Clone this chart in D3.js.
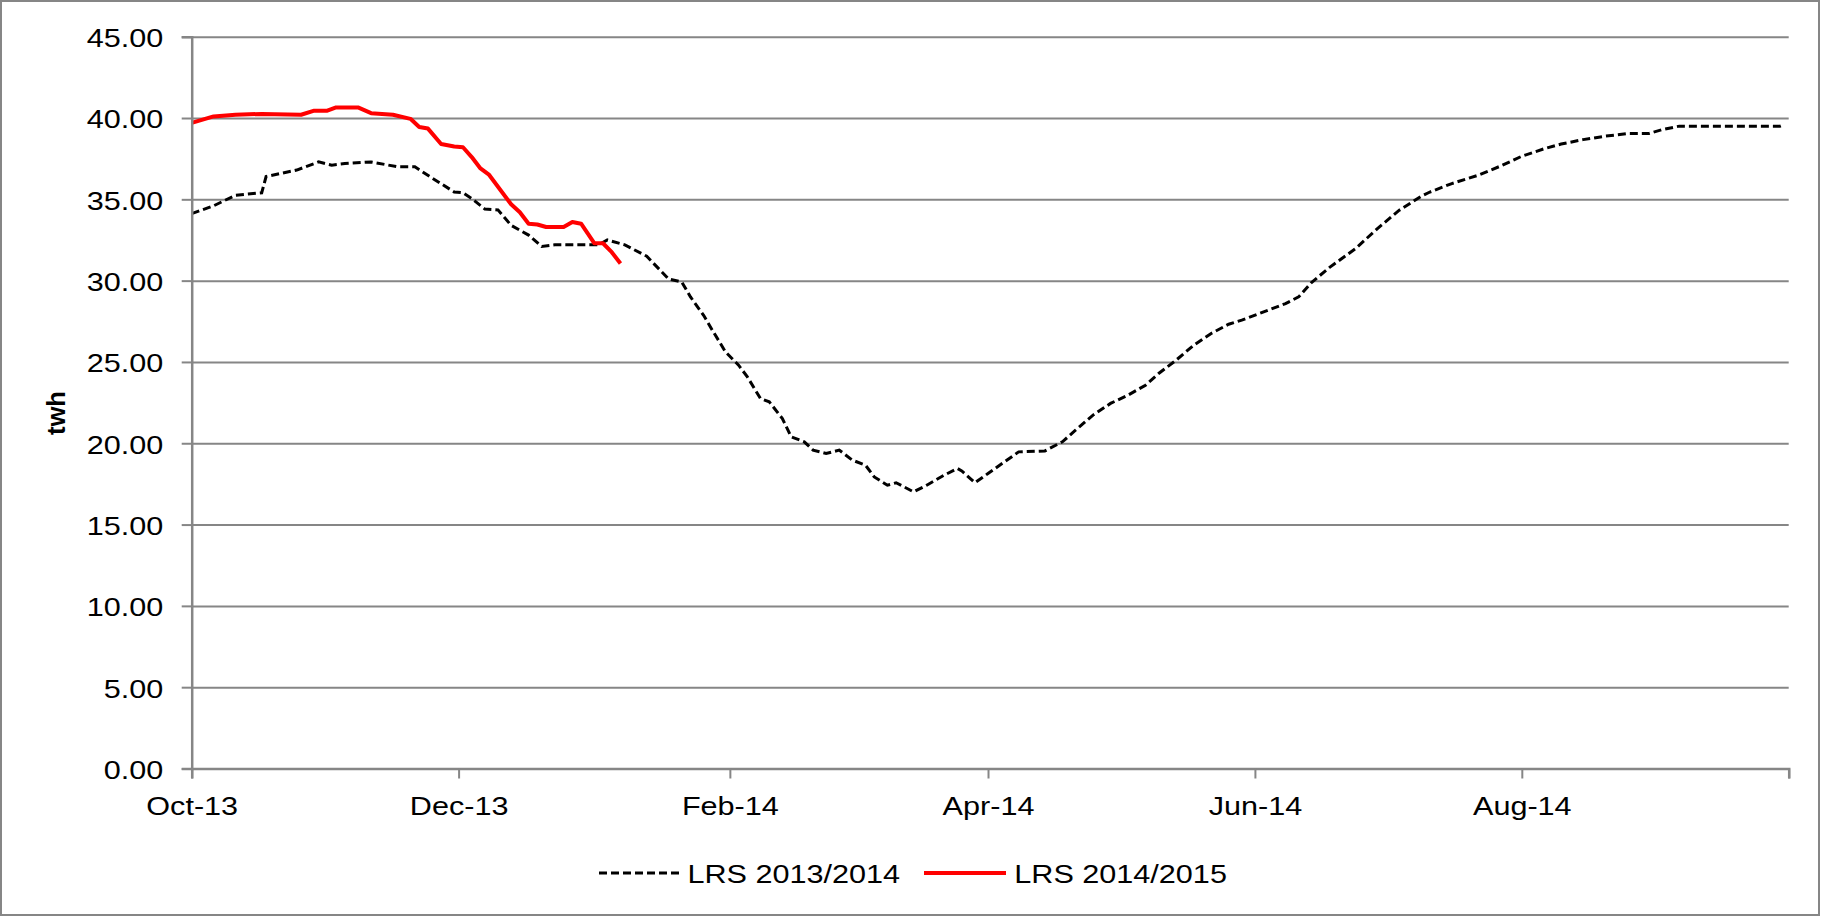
<!DOCTYPE html>
<html>
<head>
<meta charset="utf-8">
<script src="https://cdn.jsdelivr.net/npm/d3@7/dist/d3.min.js"></script>
<style>
    body { margin: 0; background: #fff; }
    svg { display: block; }
    text { font-family: "Liberation Sans", Arial, sans-serif; fill: #000; }
</style>
</head>
<body>
<div id="chart"><svg class="diagram"></svg></div>
<script>

// LRS 2013/2014, dates on the Oct-Sep season axis
var dates1314 = ["2013-10-01","2013-10-06","2013-10-11","2013-10-17","2013-10-18","2013-10-25","2013-10-30",
    "2013-11-02","2013-11-05","2013-11-11","2013-11-17","2013-11-21","2013-11-25","2013-11-30",
    "2013-12-02","2013-12-04","2013-12-07","2013-12-10","2013-12-13","2013-12-17","2013-12-20","2013-12-23",
    "2014-01-02","2014-01-04","2014-01-08","2014-01-13","2014-01-18","2014-01-21","2014-01-23","2014-01-26","2014-01-28","2014-01-31",
    "2014-02-03","2014-02-05","2014-02-08","2014-02-10","2014-02-13","2014-02-15","2014-02-18","2014-02-20","2014-02-23","2014-02-26",
    "2014-03-01","2014-03-04","2014-03-06","2014-03-09","2014-03-11","2014-03-15","2014-03-18","2014-03-22","2014-03-25","2014-03-26","2014-03-29",
    "2014-04-01","2014-04-05","2014-04-08","2014-04-14","2014-04-18","2014-04-21","2014-04-25","2014-04-29",
    "2014-05-03","2014-05-07","2014-05-10","2014-05-14","2014-05-18","2014-05-22","2014-05-26","2014-05-29",
    "2014-06-03","2014-06-08","2014-06-11","2014-06-14","2014-06-18","2014-06-24","2014-06-29",
    "2014-07-04","2014-07-09","2014-07-11","2014-07-16","2014-07-22","2014-07-27",
    "2014-08-01","2014-08-06","2014-08-10","2014-08-15","2014-08-20","2014-08-25","2014-08-30",
    "2014-09-02","2014-09-06","2014-09-29","2014-09-30"];
var values1314 = [34.12,34.6,35.25,35.4,36.4,36.8,37.3,
    37.1,37.2,37.3,37.0,37.0,36.3,35.45,
    35.4,35.05,34.4,34.35,33.4,32.8,32.1,32.2,
    32.2,32.5,32.2,31.5,30.1,29.92,29.0,27.87,26.95,25.62,
    24.8,24.08,22.75,22.55,21.52,20.4,20.09,19.58,19.37,19.58,
    18.96,18.65,17.93,17.42,17.57,17.01,17.42,18.04,18.45,18.3,17.57,
    18.14,18.9,19.47,19.53,20.09,20.8,21.73,22.45,
    22.96,23.57,24.29,25.11,26.03,26.75,27.32,27.57,
    28.08,28.59,29.0,29.9,30.8,31.97,33.2,
    34.33,35.19,35.45,35.97,36.48,37.03,
    37.65,38.1,38.4,38.67,38.88,39.04,39.04,
    39.28,39.5,39.5,39.6];

// LRS 2014/2015, plotted on the same season axis
var dates1415 = ["2013-10-01","2013-10-06","2013-10-11","2013-10-17","2013-10-26","2013-10-29",
    "2013-11-01","2013-11-03","2013-11-08","2013-11-11","2013-11-16","2013-11-20","2013-11-22","2013-11-24","2013-11-27","2013-11-30",
    "2013-12-02","2013-12-04","2013-12-06","2013-12-08","2013-12-13","2013-12-15","2013-12-17","2013-12-19","2013-12-21","2013-12-25","2013-12-27","2013-12-29",
    "2014-01-01","2014-01-03","2014-01-05","2014-01-07"];
var values1415 = [39.7,40.1,40.2,40.25,40.2,40.45,
    40.45,40.65,40.65,40.3,40.2,39.95,39.45,39.35,38.4,38.25,
    38.2,37.6,36.9,36.5,34.7,34.2,33.5,33.45,33.3,33.3,33.6,33.5,
    32.3,32.3,31.75,31.05];

var yTicks = [0,5,10,15,20,25,30,35,40,45];
var seriesNames = ["LRS 2013/2014","LRS 2014/2015"];
var axisStart = "2013-10-01", axisEnd = "2014-10-01";
var yTitle = "twh";

/***********************************************************************************************************/

var W = 1821, H = 917;
var margin = {top: 36.7, right: 32.3, bottom: 148.5, left: 191.7};
var textStretch = 1.2;  // the exported chart's labels are wider than plain Arial
var gridColor = "#868686";

var parseDate = d3.timeParse("%Y-%m-%d");

function toPoints(dates, values){
    return dates.map(function(d, i){ return {date: parseDate(d), value: values[i]}; });
}

function stretchText(sel){
    sel.each(function(){
        var t = d3.select(this);
        var x = +t.attr("x") || 0;
        t.attr("x", x / textStretch).attr("transform", "scale(" + textStretch + ",1)");
    });
}

function drawChart(mydiv){
    var div = d3.select('#' + mydiv);
    var svg = div.select("svg").attr("width", W).attr("height", H);

    svg.append("rect").attr("x", 1).attr("y", 1).attr("width", W - 3).attr("height", H - 3)
        .attr("fill", "#fff").attr("stroke", gridColor).attr("stroke-width", 2);

    var width = W - margin.left - margin.right,
        height = H - margin.top - margin.bottom;

    var g = svg.append("g").attr("transform", "translate(" + margin.left + "," + margin.top + ")");

    var x = d3.scaleTime().domain([parseDate(axisStart), parseDate(axisEnd)]).range([0, width]);
    var y = d3.scaleLinear().domain([0, 45]).range([height, 0]);

    // horizontal grid
    var grid = g.append("g").call(d3.axisLeft(y).tickValues(yTicks.slice(1)).tickSize(-width).tickFormat(""));
    grid.select(".domain").remove();
    grid.selectAll("line").attr("stroke", gridColor).attr("stroke-width", 2);

    var line = d3.line()
        .x(function(d){ return x(d.date); })
        .y(function(d){ return y(d.value); });

    g.append("path").datum(toPoints(dates1314, values1314))
        .attr("d", line).attr("fill", "none")
        .attr("stroke", "#000").attr("stroke-width", 3).attr("stroke-dasharray", "8,4");

    g.append("path").datum(toPoints(dates1415, values1415))
        .attr("d", line).attr("fill", "none")
        .attr("stroke", "#ff0000").attr("stroke-width", 4).attr("stroke-linejoin", "round");

    // y axis
    var yAxis = g.append("g").call(d3.axisLeft(y).tickValues(yTicks).tickSize(10).tickPadding(18.4)
        .tickFormat(d3.format(".2f")));
    yAxis.select(".domain").attr("stroke", gridColor).attr("stroke-width", 2.5);
    yAxis.selectAll("line").attr("stroke", gridColor).attr("stroke-width", 2);
    yAxis.selectAll("text").attr("font-size", "25.5px").attr("dy", "0.39em")
        .style("font-family", "'Liberation Sans', Arial, sans-serif").call(stretchText);

    // x axis: a tick every two months from the season start, the last one unlabelled
    var xTicks = d3.timeMonth.range(parseDate(axisStart), d3.timeDay.offset(parseDate(axisEnd), 1), 2);
    var fmt = d3.timeFormat("%b-%y");
    var xAxis = g.append("g").attr("transform", "translate(0," + height + ")")
        .call(d3.axisBottom(x).tickValues(xTicks).tickSize(10).tickPadding(18.5)
            .tickFormat(function(d, i){ return i === xTicks.length - 1 ? "" : fmt(d); }));
    xAxis.select(".domain").attr("stroke", gridColor).attr("stroke-width", 2.5);
    xAxis.selectAll("line").attr("stroke", gridColor).attr("stroke-width", 2);
    xAxis.selectAll("text").attr("font-size", "25.5px")
        .style("font-family", "'Liberation Sans', Arial, sans-serif").call(stretchText);

    // y title
    svg.append("text")
        .attr("transform", "translate(65," + 413 + ") rotate(-90)")
        .attr("text-anchor", "middle")
        .attr("font-size", "25.5px").attr("font-weight", "bold")
        .text(yTitle);

    // legend
    var legend = svg.append("g").attr("transform", "translate(0,873)");
    legend.append("line").attr("x1", 599).attr("x2", 679.5)
        .attr("stroke", "#000").attr("stroke-width", 3).attr("stroke-dasharray", "8,4");
    legend.append("text").attr("x", 687.5).attr("y", 10.3).attr("font-size", "25.5px")
        .text(seriesNames[0]).call(stretchText);
    legend.append("line").attr("x1", 924).attr("x2", 1006)
        .attr("stroke", "#ff0000").attr("stroke-width", 4);
    legend.append("text").attr("x", 1014.3).attr("y", 10.3).attr("font-size", "25.5px")
        .text(seriesNames[1]).call(stretchText);
}

drawChart("chart");
</script>
</body>
</html>
